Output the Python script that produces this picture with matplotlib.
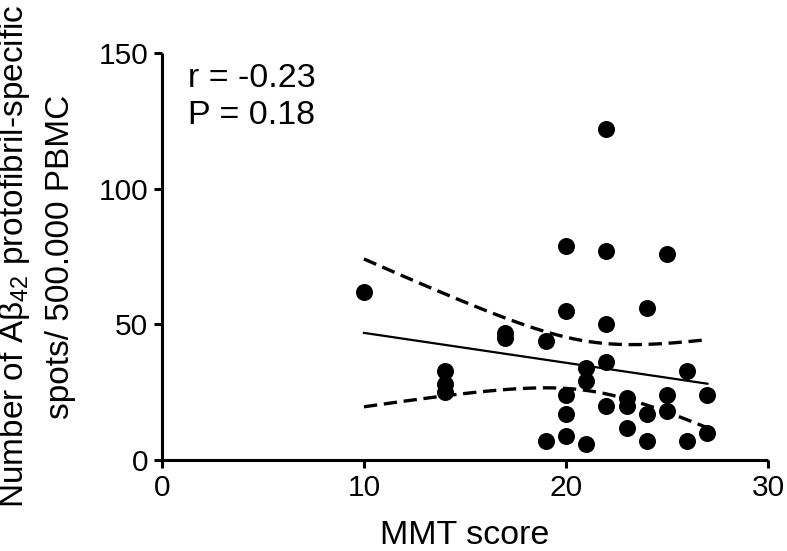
import numpy as np
import matplotlib
matplotlib.use("Agg")
import matplotlib.pyplot as plt

plt.rcParams['font.family'] = ['Liberation Sans', 'DejaVu Sans']
plt.rcParams['mathtext.fontset'] = 'custom'
plt.rcParams['mathtext.rm'] = 'Liberation Sans'
plt.rcParams['mathtext.it'] = 'Liberation Sans'

mmt = [22, 20, 22, 25, 10, 20, 24, 22, 17, 17, 19, 22, 21, 21, 14, 14, 14, 26,
       20, 23, 23, 22, 25, 25, 24, 27, 27, 20, 20, 19, 21, 23, 24, 26]
spots = [122, 79, 77, 76, 62, 55, 56, 50, 47, 45, 44, 36, 34, 29, 33, 28, 25, 33,
         24, 23, 20, 20, 24, 18, 17, 24, 10, 17, 9, 7, 6, 12, 7, 7]
stats_text = "r = -0.23\nP = 0.18"
x_ticks = [0, 10, 20, 30]
y_ticks = [0, 50, 100, 150]

x = np.array(mmt, float)
y = np.array(spots, float)
n = len(x)
slope, intercept = np.polyfit(x, y, 1)
xs = np.linspace(x.min(), x.max(), 200)
ys = intercept + slope * xs
resid = y - (intercept + slope * x)
s = np.sqrt(np.sum(resid**2) / (n - 2))
sxx = np.sum((x - x.mean())**2)
tval = 2.037
half = tval * s * np.sqrt(1.0 / n + (xs - x.mean())**2 / sxx)

fig = plt.figure(figsize=(7.87, 5.51), dpi=100)
ax = fig.add_axes([0.2058, 0.165, 0.7701, 0.7388])

ax.scatter(x, y, s=150, color='black', zorder=3, linewidths=0)
ax.plot(xs, ys, color='black', lw=1.6, zorder=2)
ax.plot(xs, ys + half, color='black', lw=2.4, ls=(0, (4, 2)), zorder=2)
ax.plot(xs, ys - half, color='black', lw=2.4, ls=(0, (4, 2)), zorder=2)

ax.set_xlim(0, 30)
ax.set_ylim(0, 150)
ax.set_xticks(x_ticks)
ax.set_yticks(y_ticks)
ax.spines['top'].set_visible(False)
ax.spines['right'].set_visible(False)
for side in ['left', 'bottom']:
    ax.spines[side].set_linewidth(2.2)
    ax.spines[side].set_capstyle('butt')
ax.tick_params(axis='both', width=2.2, length=6, labelsize=21.5, direction='out', pad=4)

ax.set_xlabel("MMT score", fontsize=24.5, labelpad=13)
ax.set_ylabel("Number of A\u03b2$_{42}$ protofibril-specific\nspots/ 500.000 PBMC",
              fontsize=24, labelpad=16, linespacing=1.55)
ax.text(0.043, 0.975, stats_text, transform=ax.transAxes, fontsize=24.5,
        va='top', ha='left', linespacing=1.25)

fig.savefig("out.png", dpi=100)
